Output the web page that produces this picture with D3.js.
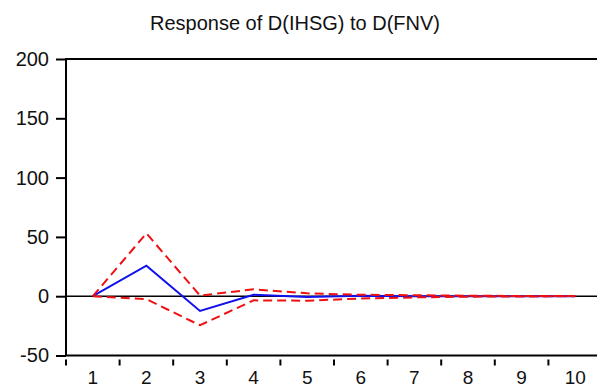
<!DOCTYPE html>
<html>
<head>
<meta charset="utf-8">
<script src="https://cdn.jsdelivr.net/npm/d3@7"></script>
<style>
  body { margin: 0; background: #fff; }
  svg { display: block; font-family: "Liberation Sans", Arial, sans-serif; }
</style>
</head>
<body>
<svg id="chart" width="597" height="389"></svg>
<script>
// periods and impulse response values
const periods = [1, 2, 3, 4, 5, 6, 7, 8, 9, 10];
const response = [0, 25.7, -12.4, 1.2, -0.6, 0.3, -0.1, 0.05, 0, 0];
const upperBand = [0, 53, 0.5, 5.8, 2.4, 1.2, 0.8, 0.4, 0.2, 0.1];
const lowerBand = [0, -2.5, -24.5, -3.5, -3.8, -2.0, -1.0, -0.4, -0.2, -0.1];
const yTicks = [-50, 0, 50, 100, 150, 200];
const title = 'Response of D(IHSG) to D(FNV)';

const svg = d3.select('#chart');
const margin = { top: 59, left: 66, bottom: 355.5, right: 602 };

const x = d3.scaleLinear().domain([0.5, 10.5]).range([margin.left, margin.right]);
const y = d3.scaleLinear().domain([-50, 200]).range([margin.bottom, margin.top]);

// title
svg.append('text')
  .attr('x', 295)
  .attr('y', 30)
  .attr('text-anchor', 'middle')
  .attr('font-size', 20)
  .attr('fill', '#111')
  .text(title);

// plot frame
svg.append('rect')
  .attr('x', margin.left)
  .attr('y', margin.top)
  .attr('width', margin.right - margin.left)
  .attr('height', margin.bottom - margin.top)
  .attr('fill', 'none')
  .attr('stroke', '#000')
  .attr('stroke-width', 2);

// y axis
const yAxis = svg.append('g')
  .attr('transform', `translate(${margin.left},0)`)
  .call(d3.axisLeft(y).tickValues(yTicks).tickSize(10).tickPadding(7)
    .tickFormat(d => String(d)));
yAxis.select('.domain').remove();
yAxis.selectAll('line').attr('stroke', '#000').attr('stroke-width', 2);
yAxis.selectAll('text').attr('font-size', 20).attr('fill', '#111')
  .attr('font-family', '"Liberation Sans", Arial, sans-serif');

// x ticks sit between periods, detached below the frame
const xTickVals = periods.map(p => p - 0.5);
svg.append('g')
  .selectAll('line')
  .data(xTickVals)
  .enter()
  .append('line')
  .attr('x1', d => x(d))
  .attr('x2', d => x(d))
  .attr('y1', margin.bottom + 4)
  .attr('y2', margin.bottom + 10)
  .attr('stroke', '#000')
  .attr('stroke-width', 2);

svg.append('g')
  .selectAll('text')
  .data(periods)
  .enter()
  .append('text')
  .attr('x', d => x(d))
  .attr('y', 384)
  .attr('text-anchor', 'middle')
  .attr('font-size', 19)
  .attr('fill', '#111')
  .text(d => d);

// zero line
svg.append('line')
  .attr('x1', margin.left)
  .attr('x2', margin.right)
  .attr('y1', y(0))
  .attr('y2', y(0))
  .attr('stroke', '#000')
  .attr('stroke-width', 1.5);

const line = d3.line()
  .x((d, i) => x(periods[i]))
  .y(d => y(d));

svg.append('path')
  .datum(response)
  .attr('d', line)
  .attr('fill', 'none')
  .attr('stroke', '#1010ee')
  .attr('stroke-width', 2);

[upperBand, lowerBand].forEach(band => {
  svg.append('path')
    .datum(band)
    .attr('d', line)
    .attr('fill', 'none')
    .attr('stroke', '#ee1111')
    .attr('stroke-width', 2)
    .attr('stroke-dasharray', '9,5');
});
</script>
</body>
</html>
